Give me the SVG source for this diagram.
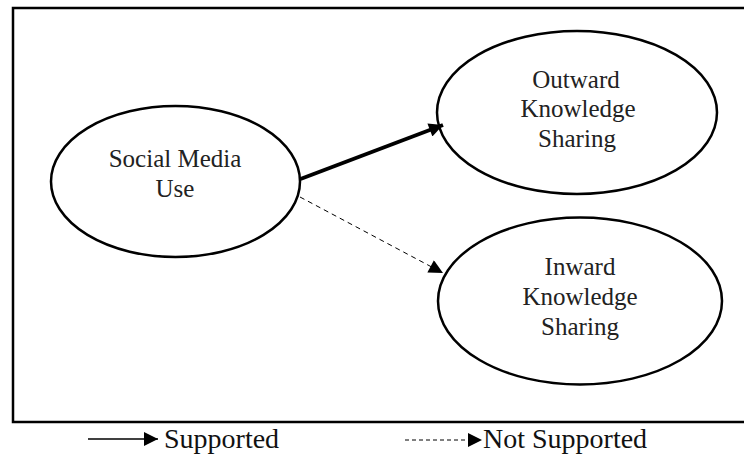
<svg xmlns="http://www.w3.org/2000/svg" width="744" height="455" viewBox="0 0 744 455">
<style>
.node{fill:#fff;stroke:#000;stroke-width:2.5}
.lbl{font-family:"Liberation Serif","Times New Roman",serif;font-size:25px;fill:#222;text-anchor:middle}
.leg{font-family:"Liberation Serif","Times New Roman",serif;font-size:28px;fill:#111}
.frame{fill:none;stroke:#000;stroke-width:2.5}
</style>
<defs>
<marker id="ah" viewBox="0 0 10 10" refX="10" refY="5" markerWidth="17" markerHeight="14" markerUnits="userSpaceOnUse" orient="auto"><path d="M0,0 L10,5 L0,10 Z" fill="#000"/></marker>
</defs>
<rect class="frame" x="13" y="8" width="740" height="414"/>
<g id="social">
<ellipse class="node" cx="175.5" cy="181.5" rx="124.5" ry="75.5"/>
<text class="lbl" x="175" y="167">Social Media</text>
<text class="lbl" x="175" y="197">Use</text>
</g>
<g id="outward">
<ellipse class="node" cx="577" cy="112.5" rx="140" ry="81.5"/>
<text class="lbl" x="576" y="88">Outward</text>
<text class="lbl" x="578" y="117">Knowledge</text>
<text class="lbl" x="577" y="147">Sharing</text>
</g>
<g id="inward">
<ellipse class="node" cx="580" cy="301" rx="142" ry="83.5"/>
<text class="lbl" x="580" y="275">Inward</text>
<text class="lbl" x="580" y="305">Knowledge</text>
<text class="lbl" x="580" y="335">Sharing</text>
</g>
<g id="connectors">
<line x1="300.5" y1="179" x2="443" y2="125" stroke="#000" stroke-width="4" marker-end="url(#ah)"/>
<line x1="300" y1="197" x2="443" y2="273" stroke="#000" stroke-width="1" stroke-dasharray="5,4" marker-end="url(#ah)"/>
</g>
<g id="legend">
<line x1="88" y1="439" x2="158" y2="439" stroke="#000" stroke-width="1.3" marker-end="url(#ah)"/>
<text class="leg" x="164" y="448">Supported</text>
<line x1="405" y1="440" x2="482" y2="440" stroke="#000" stroke-width="1" stroke-dasharray="4,3" marker-end="url(#ah)"/>
<text class="leg" x="483" y="448">Not Supported</text>
</g>
</svg>
